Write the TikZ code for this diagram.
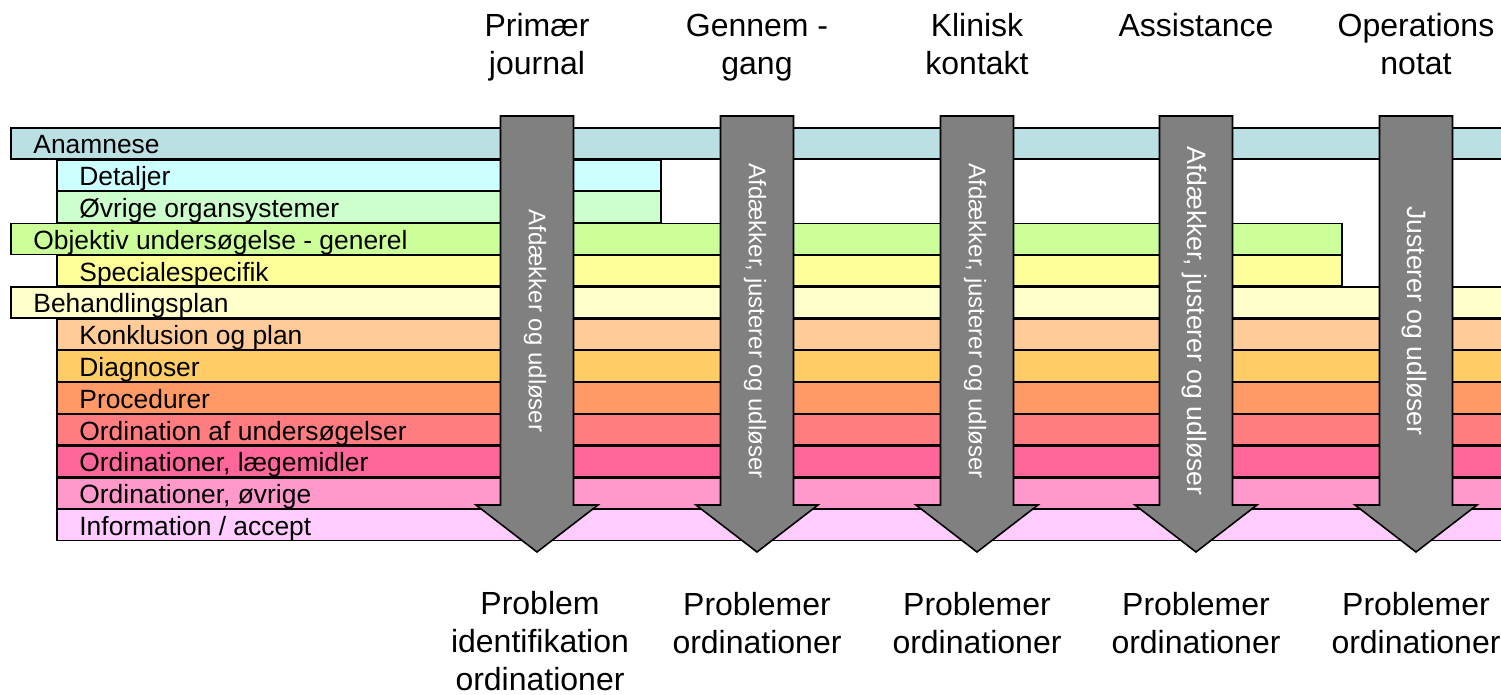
\documentclass[tikz,border=0pt]{standalone}
\usepackage{fontspec}
\setmainfont{Liberation Sans}
\definecolor{cAn}{HTML}{BBE0E3}
\definecolor{cDe}{HTML}{CCFFFF}
\definecolor{cOv}{HTML}{CCFFCC}
\definecolor{cOb}{HTML}{CCFF99}
\definecolor{cSp}{HTML}{FFFF99}
\definecolor{cBe}{HTML}{FFFFCC}
\definecolor{cKo}{HTML}{FFCC99}
\definecolor{cDi}{HTML}{FFCC66}
\definecolor{cPr}{HTML}{FF9966}
\definecolor{cOu}{HTML}{FF7C80}
\definecolor{cOl}{HTML}{FF6699}
\definecolor{cOo}{HTML}{FF99CC}
\definecolor{cIn}{HTML}{FFCCFF}
\definecolor{cArr}{HTML}{808080}
\newcommand\mybar[6]{%
  \draw[barbox,fill=#5] (#2,{-128-31.8*#4}) rectangle (#3,{-159-31.8*#4});
  \node[bartext] (#1) at ({#2+22},{-154-31.8*#4}) {#6};}
\newcommand\myarrow[4]{%
  \draw[bigarrow] ({#2-36.5},-116) coordinate (#1top) -- ({#2+36.5},-116) -- ({#2+36.5},-505)
    -- ({#2+61},-505) -- (#2,-552) coordinate (#1tip) -- ({#2-61},-505) -- ({#2-36.5},-505) -- cycle;
  \node[arrowtext,font=\fontsize{#3}{14}\selectfont] (#1txt) at ({#2-2},-321) {#4};}
\begin{document}
\begin{tikzpicture}[x=0.5pt,y=0.5pt,
  barbox/.style={draw=black,line width=0.8pt},
  bartext/.style={anchor=base west,inner sep=0pt,font=\fontsize{13.2}{15}\selectfont},
  bigarrow/.style={draw=black,line width=0.8pt,fill=cArr,line join=miter},
  arrowtext/.style={rotate=-90,text=white,inner sep=0pt},
  toplabel/.style={anchor=base,align=center,inner sep=0pt,font=\fontsize{16}{19}\selectfont},
  botlabel/.style={anchor=base,align=center,inner sep=0pt,font=\fontsize{16}{19}\selectfont}]
\useasboundingbox (0,0) rectangle (1501,-695);
\clip (0,0) rectangle (1501,-695);
\mybar{an}{11}{1530}{0}{cAn}{Anamnese}
\mybar{de}{57}{661}{1}{cDe}{Detaljer}
\mybar{ov}{57}{661}{2}{cOv}{Øvrige organsystemer}
\mybar{ob}{11}{1342}{3}{cOb}{Objektiv undersøgelse - generel}
\mybar{sp}{57}{1342}{4}{cSp}{Specialespecifik}
\mybar{be}{11}{1530}{5}{cBe}{Behandlingsplan}
\mybar{ko}{57}{1530}{6}{cKo}{Konklusion og plan}
\mybar{di}{57}{1530}{7}{cDi}{Diagnoser}
\mybar{pr}{57}{1530}{8}{cPr}{Procedurer}
\mybar{ou}{57}{1530}{9}{cOu}{Ordination af undersøgelser}
\mybar{ol}{57}{1530}{10}{cOl}{Ordinationer, lægemidler}
\mybar{oo}{57}{1530}{11}{cOo}{Ordinationer, øvrige}
\mybar{in}{57}{1530}{12}{cIn}{Information / accept}
\myarrow{a1}{537}{12}{Afdækker og udløser}
\myarrow{a2}{757}{12}{Afdækker, justerer og udløser}
\myarrow{a3}{977}{12}{Afdækker, justerer og udløser}
\myarrow{a4}{1196}{13.3}{Afdækker, justerer og udløser}
\myarrow{a5}{1416}{13.3}{Justerer og udløser}
\node[toplabel] (t1) at (537,-75) {Primær\\journal};
\node[toplabel] (t2) at (757,-75) {Gennem -\\gang};
\node[toplabel] (t3) at (977,-75) {Klinisk\\kontakt};
\node[toplabel] (t4) at (1196,-37) {Assistance};
\node[toplabel] (t5) at (1416,-75) {Operations\\notat};
\node[botlabel] (b1) at (540,-690) {Problem\\identifikation\\ordinationer};
\node[botlabel] (b2) at (757,-653) {Problemer\\ordinationer};
\node[botlabel] (b3) at (977,-653) {Problemer\\ordinationer};
\node[botlabel] (b4) at (1196,-653) {Problemer\\ordinationer};
\node[botlabel] (b5) at (1416,-653) {Problemer\\ordinationer};
\end{tikzpicture}
\end{document}
